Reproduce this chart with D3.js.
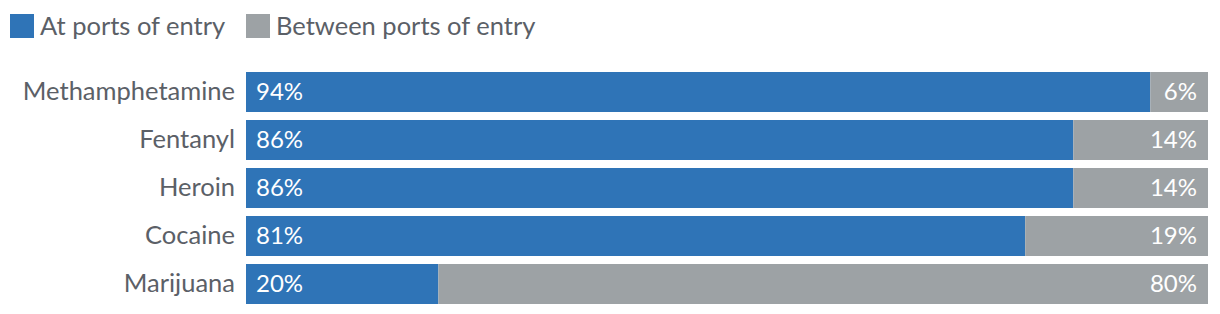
<!DOCTYPE html>
<html>
<head>
<meta charset="utf-8">
<script src="https://cdn.jsdelivr.net/npm/d3@7"></script>
<style>
  body { margin: 0; background: #fff; }
  text { font-family: Lato, "Open Sans", sans-serif; }
</style>
</head>
<body>
<svg id="chart" width="1220" height="314"></svg>
<script>
// Data ---------------------------------------------------------------------
var drugs = ["Methamphetamine", "Fentanyl", "Heroin", "Cocaine", "Marijuana"];
var atPorts = [94, 86, 86, 81, 20];
var betweenPorts = [6, 14, 14, 19, 80];
var seriesNames = ["At ports of entry", "Between ports of entry"];
var seriesColors = ["#2f74b7", "#9da2a5"];

// Layout -------------------------------------------------------------------
var svg = d3.select("#chart");
var barLeft = 246, barRight = 1208, barTop = 72;
var step = 48, gap = 8;

var x = d3.scaleLinear().domain([0, 100]).range([barLeft, barRight]);
var y = d3.scaleBand()
    .domain(drugs)
    .range([barTop, barTop + step * drugs.length - gap])
    .paddingInner(gap / step)
    .paddingOuter(0);

var rows = drugs.map(function (d, i) {
    return { name: d, a: atPorts[i], b: betweenPorts[i] };
});

// Legend
var legend = svg.append("g");
var lx = [10, 246];
seriesNames.forEach(function (s, i) {
    legend.append("rect")
        .attr("x", lx[i]).attr("y", 14)
        .attr("width", 24).attr("height", 24)
        .attr("fill", seriesColors[i]);
    legend.append("text")
        .attr("x", lx[i] + 30).attr("y", 35)
        .attr("fill", "#5b6067")
        .style("font-size", "25.5px")
        .text(s);
});

// Bars
var g = svg.append("g");
var row = g.selectAll("g.row").data(rows).enter().append("g").attr("class", "row");

row.append("rect")
    .attr("x", x(0))
    .attr("y", function (d) { return y(d.name); })
    .attr("width", function (d) { return x(d.a) - x(0); })
    .attr("height", y.bandwidth())
    .attr("fill", seriesColors[0]);

row.append("rect")
    .attr("x", function (d) { return x(d.a); })
    .attr("y", function (d) { return y(d.name); })
    .attr("width", function (d) { return x(d.a + d.b) - x(d.a); })
    .attr("height", y.bandwidth())
    .attr("fill", seriesColors[1]);

// category labels
row.append("text")
    .attr("x", barLeft - 11)
    .attr("y", function (d) { return y(d.name) + y.bandwidth() / 2; })
    .attr("dy", "0.33em")
    .attr("text-anchor", "end")
    .attr("fill", "#5b6067")
    .style("font-size", "25.5px")
    .text(function (d) { return d.name; });

// value labels
row.append("text")
    .attr("x", x(0) + 10)
    .attr("y", function (d) { return y(d.name) + y.bandwidth() / 2; })
    .attr("dy", "0.33em")
    .attr("fill", "#fff")
    .style("font-size", "24px")
    .text(function (d) { return d.a + "%"; });

row.append("text")
    .attr("x", x(100) - 11)
    .attr("y", function (d) { return y(d.name) + y.bandwidth() / 2; })
    .attr("dy", "0.33em")
    .attr("text-anchor", "end")
    .attr("fill", "#fff")
    .style("font-size", "24px")
    .text(function (d) { return d.b + "%"; });
</script>
</body>
</html>
